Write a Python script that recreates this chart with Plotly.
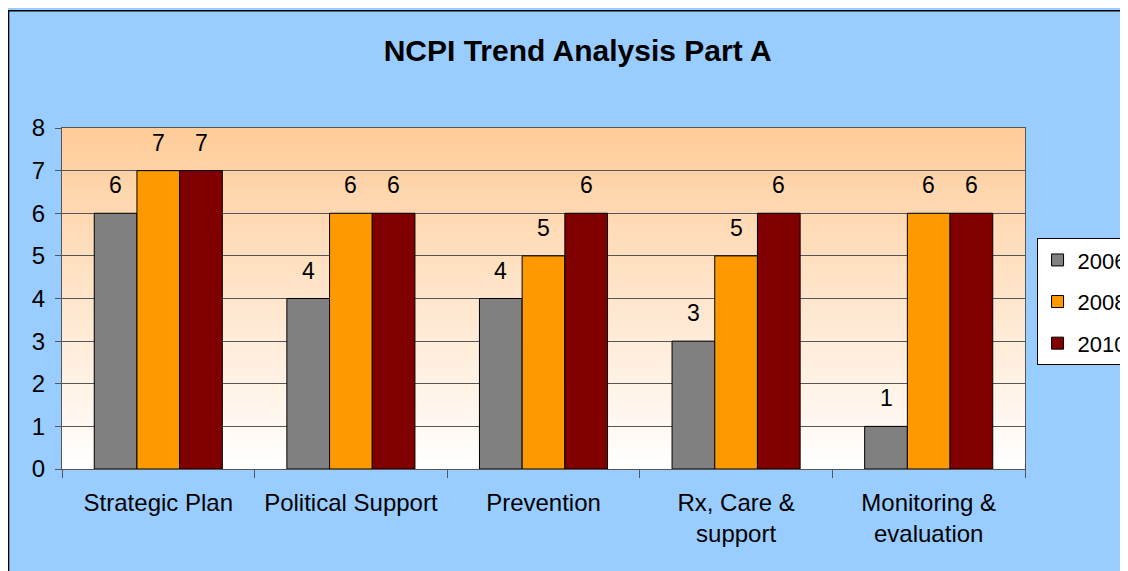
import plotly.graph_objects as go

categories = ["Strategic Plan", "Political Support", "Prevention",
              "Rx, Care &<br>support", "Monitoring &<br>evaluation"]
years = ["2006", "2008", "2010"]
values = {
    "2006": [6, 4, 4, 3, 1],
    "2008": [7, 6, 5, 5, 6],
    "2010": [7, 6, 6, 6, 6],
}
colors = {"2006": "#808080", "2008": "#FF9900", "2010": "#800000"}

FONT = "Liberation Sans, Arial"

fig = go.Figure()

for yr in years:
    fig.add_bar(
        x=categories,
        y=values[yr],
        name=yr,
        legendgroup=yr,
        marker=dict(color=colors[yr], line=dict(color="black", width=1)),
    )

# value labels sit a bit above each bar (annotations, shifted up)
n = len(years)
for i, yr in enumerate(years):
    for cat, v in zip(categories, values[yr]):
        fig.add_annotation(
            x=cat, y=v, text=str(v), showarrow=False,
            xshift=(i - (n - 1) / 2) * 42.7,
            yanchor="bottom", yshift=13,
            font=dict(family=FONT, size=23, color="black"),
        )

# outer border of the chart area
shapes = [dict(type="rect", xref="paper", yref="paper",
               x0=-0.0555, x1=1.2, y0=-0.5, y1=1.344,
               fillcolor="#99CCFF", line=dict(color="black", width=1.5),
               layer="below")]

# plot area gradient (peach at top fading to white)
steps = 60
top = (255, 204, 153)
for k in range(steps):
    t = k / steps
    c = tuple(round(255 + (top[j] - 255) * (t + 0.5 / steps)) for j in range(3))
    shapes.append(dict(type="rect", xref="x domain", yref="y domain",
                       x0=0, x1=1, y0=t, y1=t + 1 / steps + 0.002,
                       fillcolor="rgb(%d,%d,%d)" % c, line=dict(width=0),
                       layer="below"))

fig.update_layout(
    width=1128, height=571,
    margin=dict(l=54, r=111, t=120, b=110, autoexpand=False),
    paper_bgcolor="#99CCFF",
    plot_bgcolor="rgba(0,0,0,0)",
    shapes=shapes,
    barmode="group",
    bargap=0.335,
    bargroupgap=0,
    font=dict(family=FONT, size=24, color="black"),
    title=dict(text="<b>NCPI Trend Analysis Part A</b>", x=0.505, xanchor="center",
               y=1 - 42 / 571, yanchor="middle", yref="container",
               font=dict(size=30, family=FONT)),
    legend=dict(x=1.012, xanchor="left", y=0.677, yanchor="top",
                bgcolor="white", bordercolor="black", borderwidth=1,
                font=dict(size=22), tracegroupgap=10, itemwidth=30),
    showlegend=True,
)

fig.update_xaxes(
    showgrid=False, tickson="boundaries", ticks="outside", ticklen=8,
    tickcolor="#555555", showline=True, linecolor="#555555", linewidth=1,
    mirror=True, tickfont=dict(size=24), ticklabelstandoff=12,
)
fig.update_yaxes(
    range=[0, 8], dtick=1, showgrid=True, gridcolor="#555555", gridwidth=1,
    ticks="outside", ticklen=6, tickcolor="#555555",
    showline=True, linecolor="#555555", linewidth=1, mirror=True,
    zeroline=False, tickfont=dict(size=24), ticklabelstandoff=5,
)

fig.write_html("out.html")
